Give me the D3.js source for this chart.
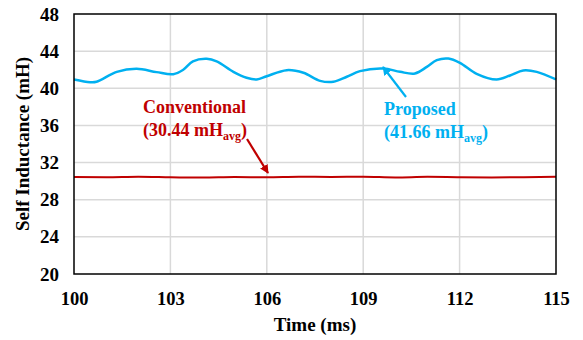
<!DOCTYPE html>
<html><head><meta charset="utf-8">
<script src="https://cdn.jsdelivr.net/npm/d3@7"></script>
<style>body{margin:0;background:#fff}svg{display:block}</style>
</head><body><svg id="c" width="583" height="340"></svg>
<script>
const xTicks = [100,103,106,109,112,115];
const yTicks = [20,24,28,32,36,40,44,48];
const proposedT = [100,100.5,100.7,101.33,101.95,102.57,103.09,103.4,103.7,104.13,104.44,104.96,105.37,105.69,106.0,106.62,107.14,107.66,108.07,108.49,108.9,109.63,110.15,110.61,110.98,111.29,111.65,112.01,112.53,113.15,113.57,113.98,114.4,115];
const proposedL = [40.95,40.66,40.7,41.77,42.1,41.74,41.52,42.0,42.9,43.17,42.9,41.77,41.13,40.95,41.3,41.95,41.67,40.8,40.7,41.24,41.85,42.13,41.77,41.6,42.3,43.03,43.2,42.74,41.56,40.95,41.38,41.92,41.77,40.95];
const conventionalT = [100,101,102,103,104,105,106,107,108,109,110,111,112,113,114,115];
const conventionalL = [30.45,30.42,30.47,30.42,30.38,30.44,30.42,30.48,30.45,30.47,30.4,30.46,30.42,30.4,30.43,30.46];

const FONT = '"Liberation Serif"';
const svg = d3.select("#c");
const L=74,R=556,T=14,B=274;
const x = d3.scaleLinear().domain([100,115]).range([L,R]);
const y = d3.scaleLinear().domain([20,48]).range([B,T]);

// grid
svg.append("g").selectAll("line").data(xTicks.slice(1,-1)).join("line")
  .attr("x1",d=>x(d)).attr("x2",d=>x(d)).attr("y1",T).attr("y2",B)
  .attr("stroke","#d9d9d9").attr("stroke-width",1.5);
svg.append("g").selectAll("line").data(yTicks.slice(1,-1)).join("line")
  .attr("y1",d=>y(d)).attr("y2",d=>y(d)).attr("x1",L).attr("x2",R)
  .attr("stroke","#d9d9d9").attr("stroke-width",1.5);

// axes
const xa = svg.append("g").attr("transform",`translate(0,${B})`)
  .call(d3.axisBottom(x).tickValues(xTicks).tickSize(0).tickPadding(18).tickFormat(d3.format("d")));
xa.attr("font-family",null).attr("font-size",null);
xa.select(".domain").remove();
xa.selectAll("text").style("font-size","18.5px").style("font-family",FONT).style("font-weight","bold").attr("fill","#000");
const ya = svg.append("g").attr("transform",`translate(${L},0)`)
  .call(d3.axisLeft(y).tickValues(yTicks).tickSize(0).tickPadding(15).tickFormat(d3.format("d")));
ya.attr("font-family",null).attr("font-size",null);
ya.select(".domain").remove();
ya.selectAll("text").style("font-size","19px").style("font-family",FONT).style("font-weight","bold").attr("fill","#000");

// lines
const line = d3.line().x(d=>x(d[0])).y(d=>y(d[1])).curve(d3.curveMonotoneX);
svg.append("path").datum(conventionalT.map((t,i)=>[t,conventionalL[i]]))
  .attr("d",line).attr("fill","none").attr("stroke","#c00000").attr("stroke-width",2);
svg.append("path").datum(proposedT.map((t,i)=>[t,proposedL[i]]))
  .attr("d",d3.line().x(d=>x(d[0])).y(d=>y(d[1])).curve(d3.curveCatmullRom))
  .attr("fill","none").attr("stroke","#00b0f0").attr("stroke-width",2.5);

// frame
svg.append("rect").attr("x",L).attr("y",T).attr("width",R-L).attr("height",B-T)
  .attr("fill","none").attr("stroke","#000").attr("stroke-width",1.5);

function txt(sel){return sel.style("font-family",FONT).style("font-weight","bold");}
// axis titles
txt(svg.append("text")).attr("x",315).attr("y",331).attr("text-anchor","middle").style("font-size","19px").text("Time (ms)");
txt(svg.append("text")).attr("transform","translate(29,144) rotate(-90)").attr("text-anchor","middle").style("font-size","19px").text("Self Inductance (mH)");

// annotations
const defs = svg.append("defs");
function marker(id,col){
  defs.append("marker").attr("id",id).attr("viewBox","0 0 10 10").attr("refX",9).attr("refY",5)
   .attr("markerWidth",4).attr("markerHeight",4).attr("orient","auto")
   .append("path").attr("d","M0,0L10,5L0,10z").attr("fill",col);
}
marker("ar","#c00000"); marker("ab","#00b0f0");

function label(xp,yp,col,name,val){
  txt(svg.append("text")).attr("x",xp).attr("y",yp).attr("fill",col).style("font-size","18px").text(name);
  const t = txt(svg.append("text")).attr("x",xp).attr("y",yp+23).attr("fill",col).style("font-size","18px");
  t.append("tspan").text("("+val+" mH");
  t.append("tspan").style("font-size","12px").attr("dy",4).text("avg");
  t.append("tspan").attr("dy",-4).text(")");
}
label(143,112.5,"#c00000","Conventional","30.44");
label(384,115,"#00b0f0","Proposed","41.66");

svg.append("line").attr("x1",247).attr("y1",139).attr("x2",268).attr("y2",173)
  .attr("stroke","#c00000").attr("stroke-width",2.2).attr("marker-end","url(#ar)");
svg.append("line").attr("x1",406).attr("y1",97).attr("x2",383).attr("y2",67)
  .attr("stroke","#00b0f0").attr("stroke-width",2.2).attr("marker-end","url(#ab)");
</script></body></html>
